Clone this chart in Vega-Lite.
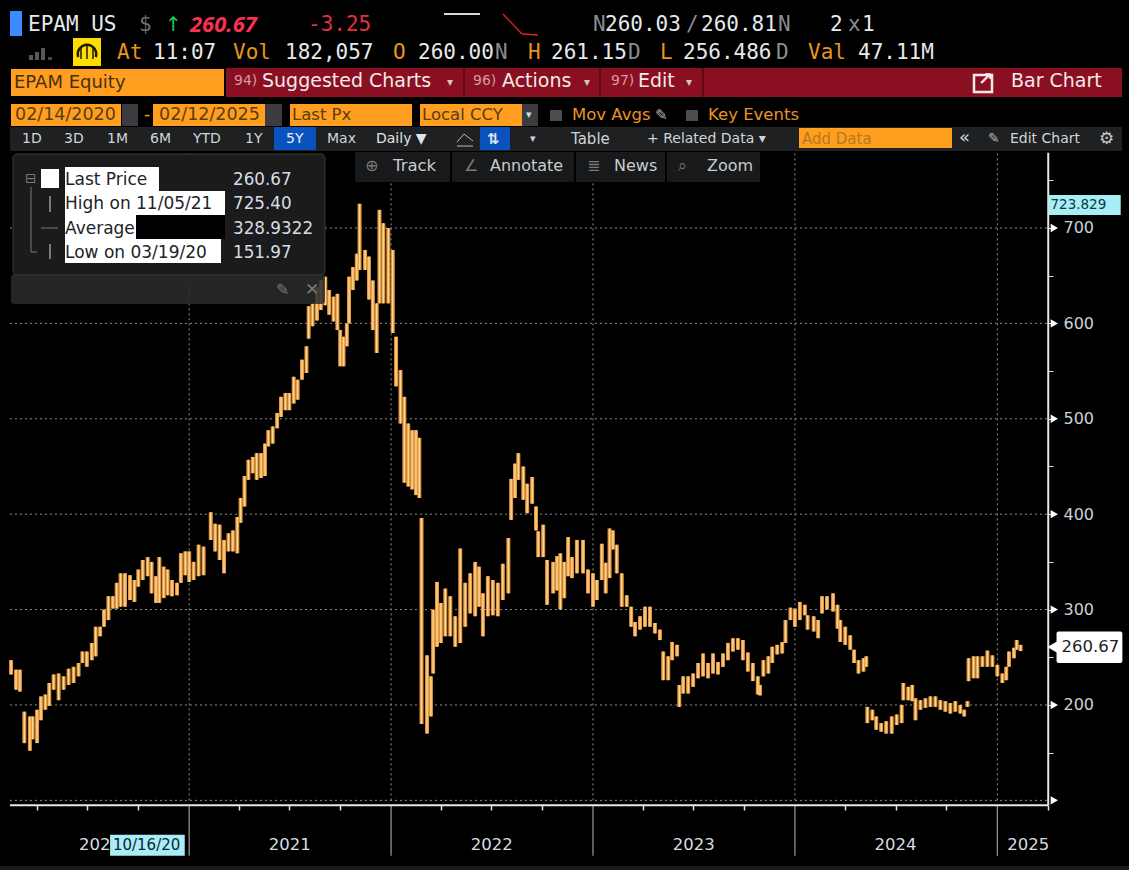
{
"$schema":"https://vega.github.io/schema/vega-lite/v6.json",
"width":1129,"height":870,"padding":0,
"autosize":{"type":"fit","contains":"padding"},
"background":"#000000",
"config":{"view":{"stroke":null},"text":{"align":"left","baseline":"middle","font":"DejaVu Sans"}},
"datasets":{
"bars":[
{"d":"2020-02-14","lo":232,"hi":247},{"d":"2020-02-23","lo":216,"hi":237},{"d":"2020-03-01","lo":214,"hi":237},{"d":"2020-03-09","lo":160,"hi":193},{"d":"2020-03-19","lo":152,"hi":188},{"d":"2020-03-24","lo":164,"hi":188},{"d":"2020-04-01","lo":160,"hi":195},{"d":"2020-04-08","lo":184,"hi":209},{"d":"2020-04-16","lo":195,"hi":211},{"d":"2020-04-23","lo":199,"hi":223},
{"d":"2020-05-01","lo":216,"hi":232},{"d":"2020-05-10","lo":205,"hi":233},{"d":"2020-05-19","lo":216,"hi":230},{"d":"2020-05-28","lo":221,"hi":238},{"d":"2020-06-06","lo":223,"hi":240},{"d":"2020-06-15","lo":230,"hi":244},{"d":"2020-06-22","lo":244,"hi":256},{"d":"2020-06-30","lo":240,"hi":256},{"d":"2020-07-09","lo":247,"hi":265},{"d":"2020-07-16","lo":251,"hi":282},
{"d":"2020-07-24","lo":272,"hi":282},{"d":"2020-07-31","lo":282,"hi":300},{"d":"2020-08-08","lo":289,"hi":314},{"d":"2020-08-16","lo":301,"hi":314},{"d":"2020-08-23","lo":301,"hi":328},{"d":"2020-08-30","lo":303,"hi":338},{"d":"2020-09-07","lo":303,"hi":338},{"d":"2020-09-16","lo":310,"hi":336},{"d":"2020-09-24","lo":308,"hi":331},{"d":"2020-10-01","lo":324,"hi":342},
{"d":"2020-10-09","lo":331,"hi":352},{"d":"2020-10-18","lo":335,"hi":355},{"d":"2020-10-25","lo":317,"hi":350},{"d":"2020-11-02","lo":307,"hi":335},{"d":"2020-11-08","lo":307,"hi":355},{"d":"2020-11-16","lo":312,"hi":345},{"d":"2020-11-23","lo":315,"hi":342},{"d":"2020-12-01","lo":314,"hi":331},{"d":"2020-12-10","lo":315,"hi":328},{"d":"2020-12-17","lo":328,"hi":359},
{"d":"2020-12-25","lo":336,"hi":361},{"d":"2021-01-01","lo":329,"hi":361},{"d":"2021-01-09","lo":331,"hi":350},{"d":"2021-01-18","lo":335,"hi":368},{"d":"2021-01-27","lo":336,"hi":366},{"d":"2021-02-09","lo":373,"hi":402},{"d":"2021-02-17","lo":361,"hi":390},{"d":"2021-02-25","lo":352,"hi":389},{"d":"2021-03-05","lo":338,"hi":373},{"d":"2021-03-13","lo":361,"hi":380},
{"d":"2021-03-21","lo":361,"hi":383},{"d":"2021-03-29","lo":359,"hi":397},{"d":"2021-04-04","lo":391,"hi":417},{"d":"2021-04-11","lo":408,"hi":440},{"d":"2021-04-18","lo":436,"hi":457},{"d":"2021-04-26","lo":443,"hi":460},{"d":"2021-05-03","lo":436,"hi":464},{"d":"2021-05-11","lo":438,"hi":464},{"d":"2021-05-18","lo":440,"hi":474},{"d":"2021-05-24","lo":471,"hi":488},
{"d":"2021-06-01","lo":474,"hi":492},{"d":"2021-06-09","lo":490,"hi":506},{"d":"2021-06-16","lo":502,"hi":523},{"d":"2021-06-24","lo":509,"hi":527},{"d":"2021-07-01","lo":509,"hi":527},{"d":"2021-07-09","lo":516,"hi":544},{"d":"2021-07-16","lo":520,"hi":541},{"d":"2021-07-24","lo":541,"hi":562},{"d":"2021-08-01","lo":548,"hi":576},{"d":"2021-08-05","lo":584,"hi":618},
{"d":"2021-08-12","lo":597,"hi":621},{"d":"2021-08-20","lo":603,"hi":638},{"d":"2021-08-27","lo":614,"hi":645},{"d":"2021-09-04","lo":619,"hi":649},{"d":"2021-09-11","lo":609,"hi":635},{"d":"2021-09-19","lo":602,"hi":628},{"d":"2021-09-26","lo":593,"hi":631},{"d":"2021-10-01","lo":555,"hi":593},{"d":"2021-10-07","lo":555,"hi":586},{"d":"2021-10-13","lo":576,"hi":600},
{"d":"2021-10-17","lo":600,"hi":649},{"d":"2021-10-24","lo":635,"hi":659},{"d":"2021-10-31","lo":645,"hi":673},{"d":"2021-11-05","lo":656,"hi":725.4},{"d":"2021-11-15","lo":656,"hi":677},{"d":"2021-11-22","lo":625,"hi":670},{"d":"2021-11-29","lo":593,"hi":645},{"d":"2021-12-06","lo":569,"hi":621},{"d":"2021-12-11","lo":621,"hi":719},{"d":"2021-12-18","lo":621,"hi":705},
{"d":"2021-12-27","lo":621,"hi":700},{"d":"2022-01-04","lo":590,"hi":677},{"d":"2022-01-10","lo":534,"hi":586},{"d":"2022-01-18","lo":495,"hi":551},{"d":"2022-01-25","lo":433,"hi":523},{"d":"2022-02-01","lo":429,"hi":495},{"d":"2022-02-08","lo":426,"hi":488},{"d":"2022-02-15","lo":420,"hi":488},{"d":"2022-02-21","lo":417,"hi":480},
{"d":"2022-02-25","lo":180,"hi":396},{"d":"2022-03-07","lo":170,"hi":252},{"d":"2022-03-14","lo":188,"hi":230},{"d":"2022-03-18","lo":233,"hi":300},{"d":"2022-03-25","lo":261,"hi":329},{"d":"2022-04-01","lo":265,"hi":307},{"d":"2022-04-09","lo":272,"hi":322},{"d":"2022-04-18","lo":272,"hi":314},{"d":"2022-04-27","lo":261,"hi":293},{"d":"2022-05-06","lo":265,"hi":364},
{"d":"2022-05-15","lo":282,"hi":328},{"d":"2022-05-24","lo":296,"hi":338},{"d":"2022-06-02","lo":293,"hi":350},{"d":"2022-06-09","lo":303,"hi":345},{"d":"2022-06-16","lo":272,"hi":317},{"d":"2022-06-25","lo":293,"hi":335},{"d":"2022-07-04","lo":294,"hi":331},{"d":"2022-07-13","lo":293,"hi":328},{"d":"2022-07-22","lo":310,"hi":348},{"d":"2022-08-01","lo":317,"hi":375},
{"d":"2022-08-06","lo":394,"hi":437},{"d":"2022-08-13","lo":417,"hi":453},{"d":"2022-08-19","lo":436,"hi":464},{"d":"2022-08-28","lo":415,"hi":450},{"d":"2022-09-04","lo":401,"hi":432},{"d":"2022-09-13","lo":411,"hi":439},{"d":"2022-09-20","lo":383,"hi":408},{"d":"2022-09-24","lo":355,"hi":382},{"d":"2022-10-03","lo":355,"hi":389},{"d":"2022-10-10","lo":305,"hi":352},
{"d":"2022-10-21","lo":317,"hi":350},{"d":"2022-10-28","lo":320,"hi":356},{"d":"2022-11-03","lo":300,"hi":359},{"d":"2022-11-10","lo":312,"hi":350},{"d":"2022-11-17","lo":335,"hi":376},{"d":"2022-11-24","lo":333,"hi":355},{"d":"2022-12-03","lo":338,"hi":373},{"d":"2022-12-14","lo":338,"hi":373},{"d":"2022-12-23","lo":317,"hi":342},{"d":"2023-01-01","lo":303,"hi":338},
{"d":"2023-01-08","lo":310,"hi":331},{"d":"2023-01-17","lo":331,"hi":369},{"d":"2023-01-24","lo":317,"hi":349},{"d":"2023-01-31","lo":333,"hi":385},{"d":"2023-02-06","lo":363,"hi":383},{"d":"2023-02-13","lo":338,"hi":368},{"d":"2023-02-22","lo":303,"hi":338},{"d":"2023-03-03","lo":303,"hi":315},{"d":"2023-03-11","lo":282,"hi":303},{"d":"2023-03-18","lo":272,"hi":287},
{"d":"2023-03-27","lo":279,"hi":293},{"d":"2023-04-05","lo":282,"hi":303},{"d":"2023-04-14","lo":282,"hi":303},{"d":"2023-04-23","lo":275,"hi":286},{"d":"2023-05-02","lo":268,"hi":279},{"d":"2023-05-08","lo":226,"hi":256},{"d":"2023-05-17","lo":226,"hi":251},{"d":"2023-05-24","lo":247,"hi":266},{"d":"2023-06-02","lo":251,"hi":263},{"d":"2023-06-06","lo":198,"hi":221},
{"d":"2023-06-13","lo":212,"hi":230},{"d":"2023-06-22","lo":212,"hi":230},{"d":"2023-07-01","lo":219,"hi":233},{"d":"2023-07-10","lo":228,"hi":244},{"d":"2023-07-19","lo":230,"hi":254},{"d":"2023-07-28","lo":228,"hi":244},{"d":"2023-08-06","lo":233,"hi":254},{"d":"2023-08-15","lo":232,"hi":245},{"d":"2023-08-24","lo":240,"hi":254},{"d":"2023-09-02","lo":247,"hi":265},
{"d":"2023-09-11","lo":256,"hi":270},{"d":"2023-09-20","lo":258,"hi":270},{"d":"2023-09-29","lo":247,"hi":268},{"d":"2023-10-08","lo":235,"hi":255},{"d":"2023-10-17","lo":225,"hi":244},{"d":"2023-10-26","lo":211,"hi":230},{"d":"2023-10-30","lo":210,"hi":221},{"d":"2023-11-05","lo":230,"hi":247},{"d":"2023-11-14","lo":233,"hi":251},{"d":"2023-11-21","lo":244,"hi":261},
{"d":"2023-11-30","lo":253,"hi":263},{"d":"2023-12-09","lo":254,"hi":266},{"d":"2023-12-15","lo":265,"hi":289},{"d":"2023-12-24","lo":289,"hi":302},{"d":"2024-01-01","lo":282,"hi":301},{"d":"2024-01-10","lo":289,"hi":308},{"d":"2024-01-19","lo":294,"hi":305},{"d":"2024-01-24","lo":279,"hi":294},{"d":"2024-02-04","lo":277,"hi":293},{"d":"2024-02-12","lo":270,"hi":289},
{"d":"2024-02-19","lo":296,"hi":314},{"d":"2024-02-28","lo":300,"hi":314},{"d":"2024-03-10","lo":298,"hi":317},{"d":"2024-03-18","lo":280,"hi":305},{"d":"2024-03-23","lo":266,"hi":289},{"d":"2024-04-01","lo":263,"hi":282},{"d":"2024-04-10","lo":258,"hi":273},{"d":"2024-04-17","lo":244,"hi":258},{"d":"2024-04-25","lo":233,"hi":247},{"d":"2024-05-04","lo":235,"hi":249},
{"d":"2024-05-09","lo":240,"hi":251},{"d":"2024-05-11","lo":181,"hi":198},{"d":"2024-05-20","lo":184,"hi":195},{"d":"2024-05-27","lo":174,"hi":188},{"d":"2024-06-05","lo":172,"hi":181},{"d":"2024-06-14","lo":170,"hi":183},{"d":"2024-06-24","lo":170,"hi":188},{"d":"2024-07-03","lo":179,"hi":190},{"d":"2024-07-12","lo":181,"hi":200},{"d":"2024-07-15","lo":205,"hi":223},
{"d":"2024-07-24","lo":205,"hi":219},{"d":"2024-07-31","lo":204,"hi":221},{"d":"2024-08-06","lo":184,"hi":207},{"d":"2024-08-15","lo":195,"hi":205},{"d":"2024-08-24","lo":197,"hi":207},{"d":"2024-09-02","lo":198,"hi":209},{"d":"2024-09-11","lo":198,"hi":209},{"d":"2024-09-20","lo":195,"hi":205},{"d":"2024-09-29","lo":193,"hi":204},{"d":"2024-10-08","lo":191,"hi":202},
{"d":"2024-10-17","lo":193,"hi":204},{"d":"2024-10-26","lo":191,"hi":200},{"d":"2024-11-02","lo":188,"hi":195},{"d":"2024-11-08","lo":198,"hi":204},{"d":"2024-11-10","lo":225,"hi":249},{"d":"2024-11-19","lo":228,"hi":251},{"d":"2024-11-26","lo":228,"hi":251},{"d":"2024-12-05","lo":240,"hi":251},{"d":"2024-12-14","lo":240,"hi":257},{"d":"2024-12-23","lo":240,"hi":252},
{"d":"2025-01-01","lo":230,"hi":242},{"d":"2025-01-10","lo":223,"hi":233},{"d":"2025-01-17","lo":226,"hi":240},{"d":"2025-01-22","lo":240,"hi":256},{"d":"2025-01-31","lo":249,"hi":260},{"d":"2025-02-05","lo":258,"hi":268},{"d":"2025-02-12","lo":256.5,"hi":263}
],
"gridY":[{"p":100,"a":"2020-02-12","b":"2025-04-03","m":"2025-04-14"},{"p":200,"a":"2020-02-12","b":"2025-04-03","m":"2025-04-14"},{"p":300,"a":"2020-02-12","b":"2025-04-03","m":"2025-04-14"},{"p":400,"a":"2020-02-12","b":"2025-04-03","m":"2025-04-14"},{"p":500,"a":"2020-02-12","b":"2025-04-03","m":"2025-04-14"},{"p":600,"a":"2020-02-12","b":"2025-04-03","m":"2025-04-14"},{"p":700,"a":"2020-02-12","b":"2025-04-03","m":"2025-04-14"}],
"gridX":[{"d":"2021-01-01"},{"d":"2022-01-01"},{"d":"2023-01-01"},{"d":"2024-01-01"},{"d":"2025-01-01"}],
"years":[{"d":"2020-07-24","t":"2020"},{"d":"2021-07-02","t":"2021"},{"d":"2022-07-02","t":"2022"},{"d":"2023-07-02","t":"2023"},{"d":"2024-07-01","t":"2024"},{"d":"2025-02-26","t":"2025"}],
"axisEdge":[{"a":"2020-02-12","b":"2025-04-03","p":95,"top":779}],
"hoverTag":[{"t":"10/16/20","d":"2020-10-16","a":"2020-08-11","b":"2020-12-24"}],
"highTag":[{"v":723.829,"a":"2025-04-03","b":"2025-08-12","d":"2025-04-07"}],
"lastTag":[{"v":260.67,"a":"2025-04-18","b":"2025-08-15","d":"2025-04-27","m":"2025-04-14"}]
},
"layer":[
{"data":{"name":"gridY","format":{"parse":{"a":"date","b":"date"}}},"mark":{"type":"rule","color":"#8f8f8f","strokeDash":[2,3],"strokeWidth":1},"encoding":{"x":{"field":"a","type":"temporal"},"x2":{"field":"b"},"y":{"field":"p","type":"quantitative"}}},
{"data":{"name":"gridX"},"mark":{"type":"rule","color":"#8f8f8f","strokeDash":[2,3],"strokeWidth":1},"encoding":{"x":{"field":"d","type":"temporal"},"y":{"datum":100,"type":"quantitative"},"y2":{"datum":779}}},
{"data":{"name":"gridX"},"mark":{"type":"rule","color":"#9a9a9a","strokeWidth":1.2},"encoding":{"x":{"field":"d","type":"temporal"},"y":{"datum":95,"type":"quantitative"},"y2":{"datum":42}}},
{"data":{"name":"bars"},"mark":{"type":"rule","color":"#e2973a","strokeWidth":4},"encoding":{
"x":{"field":"d","type":"temporal","title":null,"scale":{"type":"utc","domain":["2020-01-25","2025-08-27"],"nice":false},
"axis":{"orient":"bottom","offset":-65,"domain":false,"grid":false,"labels":false,"title":null,"tickSize":5,"tickColor":"#e0e0e0","tickWidth":1.5,
"values":["2020-04-01","2020-07-01","2020-10-01","2021-04-01","2021-07-01","2021-10-01","2022-04-01","2022-07-01","2022-10-01","2023-04-01","2023-07-01","2023-10-01","2024-04-01","2024-07-01","2024-10-01","2025-04-03"]}},
"y":{"field":"hi","type":"quantitative","title":null,"scale":{"domain":[27,939],"nice":false,"zero":false},
"axis":{"orient":"right","offset":-81,"domain":false,"grid":false,"title":null,"tickSize":5,"tickColor":"#e0e0e0","labelPadding":10,"labelColor":"#c6d2dc","labelFont":"DejaVu Sans","labelFontSize":16,
"values":[150,200,250,300,350,400,450,500,550,600,650,700,750],"labelExpr":"datum.value % 100 == 0 ? datum.value : ''","labelOverlap":false}},
"y2":{"field":"lo"}}},
{"data":{"name":"bars"},"mark":{"type":"rule","color":"#ffd69a","strokeWidth":1.4},"encoding":{"x":{"field":"d","type":"temporal"},"y":{"field":"hi","type":"quantitative"},"y2":{"field":"lo"}}},
{"data":{"name":"gridY"},"mark":{"type":"point","shape":"triangle-right","filled":true,"color":"#ffffff","opacity":1,"size":70},"encoding":{"x":{"field":"m","type":"temporal"},"y":{"field":"p","type":"quantitative"}}},
{"data":{"name":"axisEdge"},"mark":{"type":"rule","color":"#e8e8e8","strokeWidth":2},"encoding":{"x":{"field":"b","type":"temporal"},"y":{"field":"p","type":"quantitative"},"y2":{"field":"top"}}},
{"data":{"name":"axisEdge","format":{"parse":{"a":"date","b":"date"}}},"mark":{"type":"rule","color":"#e8e8e8","strokeWidth":2},"encoding":{"x":{"field":"a","type":"temporal"},"x2":{"field":"b"},"y":{"field":"p","type":"quantitative"}}},
{"data":{"name":"years"},"mark":{"type":"text","align":"center","fontSize":16.5,"color":"#d6dce2"},"encoding":{"x":{"field":"d","type":"temporal"},"y":{"datum":53,"type":"quantitative"},"text":{"field":"t"}}},
{"data":{"name":"hoverTag","format":{"parse":{"a":"date","b":"date"}}},"mark":{"type":"rect","color":"#a9eef6"},"encoding":{"x":{"field":"a","type":"temporal"},"x2":{"field":"b"},"y":{"datum":64,"type":"quantitative"},"y2":{"datum":42}}},
{"data":{"name":"hoverTag"},"mark":{"type":"text","align":"center","fontSize":15,"color":"#123"},"encoding":{"x":{"field":"d","type":"temporal"},"y":{"datum":53,"type":"quantitative"},"text":{"field":"t"}}},
{"data":{"name":"highTag","format":{"parse":{"a":"date","b":"date"}}},"mark":{"type":"rect","color":"#a9eef6"},"encoding":{"x":{"field":"a","type":"temporal"},"x2":{"field":"b"},"y":{"datum":734.6,"type":"quantitative"},"y2":{"datum":713.5}}},
{"data":{"name":"highTag"},"mark":{"type":"text","fontSize":13.5,"color":"#0b3a44"},"encoding":{"x":{"field":"d","type":"temporal"},"y":{"field":"v","type":"quantitative"},"text":{"field":"v","format":".3f"}}},
{"data":{"name":"lastTag","format":{"parse":{"a":"date","b":"date"}}},"mark":{"type":"rect","color":"#ffffff","cornerRadius":2},"encoding":{"x":{"field":"a","type":"temporal"},"x2":{"field":"b"},"y":{"datum":277,"type":"quantitative"},"y2":{"datum":244}}},
{"data":{"name":"lastTag"},"mark":{"type":"point","shape":"triangle-left","filled":true,"color":"#ffffff","opacity":1,"size":260},"encoding":{"x":{"field":"m","type":"temporal"},"y":{"field":"v","type":"quantitative"}}},
{"data":{"name":"lastTag"},"mark":{"type":"text","fontSize":16.5,"color":"#1d2226"},"encoding":{"x":{"field":"d","type":"temporal"},"y":{"field":"v","type":"quantitative"},"text":{"field":"v","format":".2f"}}},

{"data":{"values":[{"k":1}]},"mark":{"type":"rect","x":11,"x2":325,"y":274,"y2":304,"color":"#2a2b2d","opacity":0.85,"cornerRadius":3}},
{"data":{"values":[{"k":1}]},"mark":{"type":"rect","x":13,"x2":325,"y":154,"y2":275,"color":"#1b1b1c","stroke":"#3a3a3a","cornerRadius":4}},
{"data":{"values":[{"k":1}]},"mark":{"type":"rect","x":41,"x2":59,"y":169,"y2":188,"color":"#ffffff"}},
{"data":{"values":[{"k":1}]},"mark":{"type":"rect","x":65,"x2":159,"y":167,"y2":191,"color":"#ffffff"}},
{"data":{"values":[{"k":1}]},"mark":{"type":"rect","x":65,"x2":225,"y":191,"y2":215,"color":"#ffffff"}},
{"data":{"values":[{"k":1}]},"mark":{"type":"rect","x":65,"x2":136,"y":215,"y2":239,"color":"#ffffff"}},
{"data":{"values":[{"k":1}]},"mark":{"type":"rect","x":136,"x2":225,"y":215,"y2":239,"color":"#000000"}},
{"data":{"values":[{"k":1}]},"mark":{"type":"rect","x":65,"x2":221,"y":239,"y2":263,"color":"#ffffff"}},
{"data":{"values":[{"t":"Last Price"}]},"mark":{"type":"text","x":65,"y":180,"fontSize":17,"color":"#20242a"},"encoding":{"text":{"field":"t"}}},
{"data":{"values":[{"t":"High on 11/05/21"}]},"mark":{"type":"text","x":65,"y":204,"fontSize":17,"color":"#20242a"},"encoding":{"text":{"field":"t"}}},
{"data":{"values":[{"t":"Average"}]},"mark":{"type":"text","x":65,"y":229,"fontSize":17,"color":"#20242a"},"encoding":{"text":{"field":"t"}}},
{"data":{"values":[{"t":"Low on 03/19/20"}]},"mark":{"type":"text","x":65,"y":253,"fontSize":17,"color":"#20242a"},"encoding":{"text":{"field":"t"}}},
{"data":{"values":[{"t":"260.67"}]},"mark":{"type":"text","x":233,"y":180,"fontSize":16.8,"color":"#d5dde5"},"encoding":{"text":{"field":"t"}}},
{"data":{"values":[{"t":"725.40"}]},"mark":{"type":"text","x":233,"y":204,"fontSize":16.8,"color":"#d5dde5"},"encoding":{"text":{"field":"t"}}},
{"data":{"values":[{"t":"328.9322"}]},"mark":{"type":"text","x":233,"y":229,"fontSize":16.8,"color":"#d5dde5"},"encoding":{"text":{"field":"t"}}},
{"data":{"values":[{"t":"151.97"}]},"mark":{"type":"text","x":233,"y":253,"fontSize":16.8,"color":"#d5dde5"},"encoding":{"text":{"field":"t"}}},
{"data":{"values":[{"t":"⊟"}]},"mark":{"type":"text","x":25,"y":179,"fontSize":14,"color":"#77797c"},"encoding":{"text":{"field":"t"}}},
{"data":{"values":[{"k":1}]},"mark":{"type":"rule","color":"#77797c"},"encoding":{"x":{"value":31},"x2":{"value":31},"y":{"value":187},"y2":{"value":252}}},
{"data":{"values":[{"k":1}]},"mark":{"type":"rule","color":"#77797c"},"encoding":{"x":{"value":31},"x2":{"value":37},"y":{"value":252},"y2":{"value":252}}},
{"data":{"values":[{"k":1}]},"mark":{"type":"rule","color":"#77797c"},"encoding":{"x":{"value":41},"x2":{"value":58},"y":{"value":228},"y2":{"value":228}}},
{"data":{"values":[{"k":1}]},"mark":{"type":"rule","color":"#77797c","strokeWidth":2},"encoding":{"x":{"value":50},"x2":{"value":50},"y":{"value":196},"y2":{"value":212}}},
{"data":{"values":[{"k":1}]},"mark":{"type":"rule","color":"#77797c","strokeWidth":2},"encoding":{"x":{"value":50},"x2":{"value":50},"y":{"value":244},"y2":{"value":259}}},
{"data":{"values":[{"t":"✕"}]},"mark":{"type":"text","x":305,"y":290,"fontSize":17,"color":"#77797c"},"encoding":{"text":{"field":"t"}}},
{"data":{"values":[{"t":"✎"}]},"mark":{"type":"text","x":276,"y":290,"fontSize":16,"color":"#77797c"},"encoding":{"text":{"field":"t"}}},

{"data":{"values":[{"k":1}]},"mark":{"type":"rect","x":0,"x2":1129,"y":866,"y2":870,"color":"#1c1c1c"}},
{"data":{"values":[{"k":1}]},"mark":{"type":"rect","x":10,"x2":22,"y":11,"y2":36,"color":"#3b8dff"}},
{"data":{"values":[{"t":"EPAM US"}]},"mark":{"type":"text","x":28,"y":25,"fontSize":21,"font":"DejaVu Sans Mono","color":"#e6e9ec"},"encoding":{"text":{"field":"t"}}},
{"data":{"values":[{"t":"$"}]},"mark":{"type":"text","x":139,"y":25,"fontSize":21,"font":"DejaVu Sans Mono","color":"#6d7074"},"encoding":{"text":{"field":"t"}}},
{"data":{"values":[{"t":"↑"}]},"mark":{"type":"text","x":165,"y":25,"fontSize":20,"color":"#25c55a"},"encoding":{"text":{"field":"t"}}},
{"data":{"values":[{"t":"260.67"}]},"mark":{"type":"text","x":190,"y":25,"fontSize":22,"font":"Noto Sans","fontStyle":"italic","fontWeight":"bold","color":"#f5324f"},"encoding":{"text":{"field":"t"}}},
{"data":{"values":[{"t":"-3.25"}]},"mark":{"type":"text","x":308,"y":25,"fontSize":21,"font":"DejaVu Sans Mono","color":"#e2323f"},"encoding":{"text":{"field":"t"}}},
{"data":{"values":[{"k":1}]},"mark":{"type":"rule","color":"#d8d8d8","strokeWidth":2},"encoding":{"x":{"value":444},"x2":{"value":480},"y":{"value":14},"y2":{"value":14}}},
{"data":{"values":[{"k":1}]},"mark":{"type":"rule","color":"#d8202c","strokeWidth":1.5},"encoding":{"x":{"value":503},"x2":{"value":522},"y":{"value":14},"y2":{"value":34}}},
{"data":{"values":[{"k":1}]},"mark":{"type":"rule","color":"#d8202c","strokeWidth":1.5},"encoding":{"x":{"value":522},"x2":{"value":538},"y":{"value":34},"y2":{"value":35}}},
{"data":{"values":[{"t":"N"}]},"mark":{"type":"text","x":593,"y":25,"fontSize":21,"font":"DejaVu Sans Mono","color":"#8a8d90"},"encoding":{"text":{"field":"t"}}},
{"data":{"values":[{"t":"260.03"}]},"mark":{"type":"text","x":605,"y":25,"fontSize":21,"font":"DejaVu Sans Mono","color":"#e6e9ec"},"encoding":{"text":{"field":"t"}}},
{"data":{"values":[{"t":"/"}]},"mark":{"type":"text","x":686,"y":25,"fontSize":21,"font":"DejaVu Sans Mono","color":"#8a8d90"},"encoding":{"text":{"field":"t"}}},
{"data":{"values":[{"t":"260.81"}]},"mark":{"type":"text","x":701,"y":25,"fontSize":21,"font":"DejaVu Sans Mono","color":"#e6e9ec"},"encoding":{"text":{"field":"t"}}},
{"data":{"values":[{"t":"N"}]},"mark":{"type":"text","x":778,"y":25,"fontSize":21,"font":"DejaVu Sans Mono","color":"#8a8d90"},"encoding":{"text":{"field":"t"}}},
{"data":{"values":[{"t":"2"}]},"mark":{"type":"text","x":830,"y":25,"fontSize":21,"font":"DejaVu Sans Mono","color":"#e6e9ec"},"encoding":{"text":{"field":"t"}}},
{"data":{"values":[{"t":"x"}]},"mark":{"type":"text","x":848,"y":25,"fontSize":21,"font":"DejaVu Sans Mono","color":"#8a8d90"},"encoding":{"text":{"field":"t"}}},
{"data":{"values":[{"t":"1"}]},"mark":{"type":"text","x":862,"y":25,"fontSize":21,"font":"DejaVu Sans Mono","color":"#e6e9ec"},"encoding":{"text":{"field":"t"}}},

{"data":{"values":[{"k":1}]},"mark":{"type":"rule","color":"#55585c","strokeWidth":4},"encoding":{"x":{"value":31},"y":{"value":55},"y2":{"value":60}}},
{"data":{"values":[{"k":1}]},"mark":{"type":"rule","color":"#55585c","strokeWidth":4},"encoding":{"x":{"value":37},"y":{"value":52},"y2":{"value":60}}},
{"data":{"values":[{"k":1}]},"mark":{"type":"rule","color":"#55585c","strokeWidth":4},"encoding":{"x":{"value":43},"y":{"value":48},"y2":{"value":60}}},
{"data":{"values":[{"k":1}]},"mark":{"type":"rule","color":"#44474a","strokeWidth":4},"encoding":{"x":{"value":50},"y":{"value":57},"y2":{"value":60}}},
{"data":{"values":[{"k":1}]},"mark":{"type":"rect","x":73,"x2":101,"y":38,"y2":66,"color":"#ffdd00"}},
{"data":{"values":[{"k":1}]},"mark":{"type":"arc","x":87,"y":54,"innerRadius":8,"outerRadius":10.5,"theta":-1.9,"theta2":1.9,"color":"#1a1a00"}},
{"data":{"values":[{"k":1}]},"mark":{"type":"rule","color":"#1a1a00","strokeWidth":1.5},"encoding":{"x":{"value":87},"y":{"value":46},"y2":{"value":59}}},
{"data":{"values":[{"k":1}]},"mark":{"type":"rule","color":"#1a1a00","strokeWidth":1.5},"encoding":{"x":{"value":81},"y":{"value":48},"y2":{"value":59}}},
{"data":{"values":[{"k":1}]},"mark":{"type":"rule","color":"#1a1a00","strokeWidth":1.5},"encoding":{"x":{"value":93},"y":{"value":48},"y2":{"value":59}}},
{"data":{"values":[{"t":"At"}]},"mark":{"type":"text","x":117,"y":53,"fontSize":21,"font":"DejaVu Sans Mono","color":"#e8941f"},"encoding":{"text":{"field":"t"}}},
{"data":{"values":[{"t":"11:07"}]},"mark":{"type":"text","x":153,"y":53,"fontSize":21,"font":"DejaVu Sans Mono","color":"#e6e9ec"},"encoding":{"text":{"field":"t"}}},
{"data":{"values":[{"t":"Vol"}]},"mark":{"type":"text","x":233,"y":53,"fontSize":21,"font":"DejaVu Sans Mono","color":"#e8941f"},"encoding":{"text":{"field":"t"}}},
{"data":{"values":[{"t":"182,057"}]},"mark":{"type":"text","x":285,"y":53,"fontSize":21,"font":"DejaVu Sans Mono","color":"#e6e9ec"},"encoding":{"text":{"field":"t"}}},
{"data":{"values":[{"t":"O"}]},"mark":{"type":"text","x":393,"y":53,"fontSize":21,"font":"DejaVu Sans Mono","color":"#e8941f"},"encoding":{"text":{"field":"t"}}},
{"data":{"values":[{"t":"260.00"}]},"mark":{"type":"text","x":418,"y":53,"fontSize":21,"font":"DejaVu Sans Mono","color":"#e6e9ec"},"encoding":{"text":{"field":"t"}}},
{"data":{"values":[{"t":"N"}]},"mark":{"type":"text","x":495,"y":53,"fontSize":21,"font":"DejaVu Sans Mono","color":"#8a8d90"},"encoding":{"text":{"field":"t"}}},
{"data":{"values":[{"t":"H"}]},"mark":{"type":"text","x":528,"y":53,"fontSize":21,"font":"DejaVu Sans Mono","color":"#e8941f"},"encoding":{"text":{"field":"t"}}},
{"data":{"values":[{"t":"261.15"}]},"mark":{"type":"text","x":551,"y":53,"fontSize":21,"font":"DejaVu Sans Mono","color":"#e6e9ec"},"encoding":{"text":{"field":"t"}}},
{"data":{"values":[{"t":"D"}]},"mark":{"type":"text","x":628,"y":53,"fontSize":21,"font":"DejaVu Sans Mono","color":"#8a8d90"},"encoding":{"text":{"field":"t"}}},
{"data":{"values":[{"t":"L"}]},"mark":{"type":"text","x":660,"y":53,"fontSize":21,"font":"DejaVu Sans Mono","color":"#e8941f"},"encoding":{"text":{"field":"t"}}},
{"data":{"values":[{"t":"256.486"}]},"mark":{"type":"text","x":683,"y":53,"fontSize":21,"font":"DejaVu Sans Mono","color":"#e6e9ec"},"encoding":{"text":{"field":"t"}}},
{"data":{"values":[{"t":"D"}]},"mark":{"type":"text","x":776,"y":53,"fontSize":21,"font":"DejaVu Sans Mono","color":"#8a8d90"},"encoding":{"text":{"field":"t"}}},
{"data":{"values":[{"t":"Val"}]},"mark":{"type":"text","x":808,"y":53,"fontSize":21,"font":"DejaVu Sans Mono","color":"#e8941f"},"encoding":{"text":{"field":"t"}}},
{"data":{"values":[{"t":"47.11M"}]},"mark":{"type":"text","x":858,"y":53,"fontSize":21,"font":"DejaVu Sans Mono","color":"#e6e9ec"},"encoding":{"text":{"field":"t"}}},

{"data":{"values":[{"k":1}]},"mark":{"type":"rect","x":11,"x2":224,"y":69,"y2":96,"color":"#ff9e1f"}},
{"data":{"values":[{"k":1}]},"mark":{"type":"rect","x":226,"x2":1122,"y":68,"y2":97,"color":"#8a0f20"}},
{"data":{"values":[{"t":"EPAM Equity"}]},"mark":{"type":"text","x":14,"y":83,"fontSize":18,"color":"#4a2f0c"},"encoding":{"text":{"field":"t"}}},
{"data":{"values":[{"t":"94)"}]},"mark":{"type":"text","x":234,"y":81,"fontSize":14,"color":"#d69aa2"},"encoding":{"text":{"field":"t"}}},
{"data":{"values":[{"t":"Suggested Charts"}]},"mark":{"type":"text","x":262,"y":81,"fontSize":19,"color":"#f2eaea"},"encoding":{"text":{"field":"t"}}},
{"data":{"values":[{"t":"▾"}]},"mark":{"type":"text","x":447,"y":82,"fontSize":12,"color":"#d8c4c6"},"encoding":{"text":{"field":"t"}}},
{"data":{"values":[{"k":1}]},"mark":{"type":"rule","color":"#5e0a16","strokeWidth":2},"encoding":{"x":{"value":464},"y":{"value":68},"y2":{"value":97}}},
{"data":{"values":[{"t":"96)"}]},"mark":{"type":"text","x":473,"y":81,"fontSize":14,"color":"#d69aa2"},"encoding":{"text":{"field":"t"}}},
{"data":{"values":[{"t":"Actions"}]},"mark":{"type":"text","x":502,"y":81,"fontSize":19,"color":"#f2eaea"},"encoding":{"text":{"field":"t"}}},
{"data":{"values":[{"t":"▾"}]},"mark":{"type":"text","x":584,"y":82,"fontSize":12,"color":"#d8c4c6"},"encoding":{"text":{"field":"t"}}},
{"data":{"values":[{"k":1}]},"mark":{"type":"rule","color":"#5e0a16","strokeWidth":2},"encoding":{"x":{"value":600},"y":{"value":68},"y2":{"value":97}}},
{"data":{"values":[{"t":"97)"}]},"mark":{"type":"text","x":611,"y":81,"fontSize":14,"color":"#d69aa2"},"encoding":{"text":{"field":"t"}}},
{"data":{"values":[{"t":"Edit"}]},"mark":{"type":"text","x":638,"y":81,"fontSize":19,"color":"#f2eaea"},"encoding":{"text":{"field":"t"}}},
{"data":{"values":[{"t":"▾"}]},"mark":{"type":"text","x":686,"y":82,"fontSize":12,"color":"#d8c4c6"},"encoding":{"text":{"field":"t"}}},
{"data":{"values":[{"k":1}]},"mark":{"type":"rule","color":"#5e0a16","strokeWidth":2},"encoding":{"x":{"value":703},"y":{"value":68},"y2":{"value":97}}},
{"data":{"values":[{"k":1}]},"mark":{"type":"rect","x":974,"x2":992,"y":75,"y2":92,"color":"#8a0f20","stroke":"#f2eaea","strokeWidth":2.5}},
{"data":{"values":[{"t":"↗"}]},"mark":{"type":"text","x":978,"y":80,"fontSize":18,"fontWeight":"bold","color":"#f2eaea"},"encoding":{"text":{"field":"t"}}},
{"data":{"values":[{"t":"Bar Chart"}]},"mark":{"type":"text","x":1011,"y":81,"fontSize":19,"color":"#f2eaea"},"encoding":{"text":{"field":"t"}}},

{"data":{"values":[{"k":1}]},"mark":{"type":"rect","x":11,"x2":121,"y":104,"y2":126,"color":"#ff9e1f"}},
{"data":{"values":[{"k":1}]},"mark":{"type":"rect","x":122,"x2":138,"y":104,"y2":126,"color":"#3a3c3f"}},
{"data":{"values":[{"k":1}]},"mark":{"type":"rect","x":153,"x2":265,"y":104,"y2":126,"color":"#ff9e1f"}},
{"data":{"values":[{"k":1}]},"mark":{"type":"rect","x":265,"x2":282,"y":104,"y2":126,"color":"#3a3c3f"}},
{"data":{"values":[{"k":1}]},"mark":{"type":"rect","x":290,"x2":412,"y":104,"y2":126,"color":"#ff9e1f"}},
{"data":{"values":[{"k":1}]},"mark":{"type":"rect","x":420,"x2":522,"y":104,"y2":126,"color":"#ff9e1f"}},
{"data":{"values":[{"k":1}]},"mark":{"type":"rect","x":522,"x2":538,"y":104,"y2":126,"color":"#3a3c3f"}},
{"data":{"values":[{"k":1}]},"mark":{"type":"rect","x":550,"x2":562,"y":110,"y2":121,"color":"#4a4c4f"}},
{"data":{"values":[{"k":1}]},"mark":{"type":"rect","x":686,"x2":698,"y":110,"y2":121,"color":"#4a4c4f"}},
{"data":{"values":[{"t":"02/14/2020"}]},"mark":{"type":"text","x":15,"y":115,"fontSize":17.5,"color":"#5a3c12"},"encoding":{"text":{"field":"t"}}},
{"data":{"values":[{"t":"-"}]},"mark":{"type":"text","x":144,"y":115,"fontSize":17,"color":"#ff9e1f"},"encoding":{"text":{"field":"t"}}},
{"data":{"values":[{"t":"02/12/2025"}]},"mark":{"type":"text","x":159,"y":115,"fontSize":17.5,"color":"#5a3c12"},"encoding":{"text":{"field":"t"}}},
{"data":{"values":[{"t":"Last Px"}]},"mark":{"type":"text","x":292,"y":115,"fontSize":16.5,"color":"#5a3c12"},"encoding":{"text":{"field":"t"}}},
{"data":{"values":[{"t":"Local CCY"}]},"mark":{"type":"text","x":422,"y":115,"fontSize":16.5,"color":"#5a3c12"},"encoding":{"text":{"field":"t"}}},
{"data":{"values":[{"t":"▾"}]},"mark":{"type":"text","x":526,"y":115,"fontSize":11,"color":"#d8d8d8"},"encoding":{"text":{"field":"t"}}},
{"data":{"values":[{"t":"Mov Avgs"}]},"mark":{"type":"text","x":572,"y":115,"fontSize":16.5,"color":"#e8941f"},"encoding":{"text":{"field":"t"}}},
{"data":{"values":[{"t":"✎"}]},"mark":{"type":"text","x":655,"y":115,"fontSize":15,"color":"#b0b0b0"},"encoding":{"text":{"field":"t"}}},
{"data":{"values":[{"t":"Key Events"}]},"mark":{"type":"text","x":708,"y":115,"fontSize":16.5,"color":"#e8941f"},"encoding":{"text":{"field":"t"}}},

{"data":{"values":[{"k":1}]},"mark":{"type":"rect","x":10,"x2":1122,"y":127,"y2":151,"color":"#1e2022"}},
{"data":{"values":[{"k":1}]},"mark":{"type":"rect","x":274,"x2":316,"y":127,"y2":150,"color":"#0a52bd"}},
{"data":{"values":[{"k":1}]},"mark":{"type":"rect","x":480,"x2":510,"y":127,"y2":150,"color":"#0a52bd"}},
{"data":{"values":[{"k":1}]},"mark":{"type":"rect","x":799,"x2":952,"y":128,"y2":148,"color":"#ff9e1f"}},
{"data":{"values":[{"t":"1D"}]},"mark":{"type":"text","x":22,"y":139,"fontSize":14,"color":"#d0d4d8"},"encoding":{"text":{"field":"t"}}},
{"data":{"values":[{"t":"3D"}]},"mark":{"type":"text","x":64,"y":139,"fontSize":14,"color":"#d0d4d8"},"encoding":{"text":{"field":"t"}}},
{"data":{"values":[{"t":"1M"}]},"mark":{"type":"text","x":107,"y":139,"fontSize":14,"color":"#d0d4d8"},"encoding":{"text":{"field":"t"}}},
{"data":{"values":[{"t":"6M"}]},"mark":{"type":"text","x":150,"y":139,"fontSize":14,"color":"#d0d4d8"},"encoding":{"text":{"field":"t"}}},
{"data":{"values":[{"t":"YTD"}]},"mark":{"type":"text","x":193,"y":139,"fontSize":14,"color":"#d0d4d8"},"encoding":{"text":{"field":"t"}}},
{"data":{"values":[{"t":"1Y"}]},"mark":{"type":"text","x":245,"y":139,"fontSize":14,"color":"#d0d4d8"},"encoding":{"text":{"field":"t"}}},
{"data":{"values":[{"t":"5Y"}]},"mark":{"type":"text","x":286,"y":139,"fontSize":14,"color":"#e8eef5"},"encoding":{"text":{"field":"t"}}},
{"data":{"values":[{"t":"Max"}]},"mark":{"type":"text","x":327,"y":139,"fontSize":14,"color":"#d0d4d8"},"encoding":{"text":{"field":"t"}}},
{"data":{"values":[{"t":"Daily ▼"}]},"mark":{"type":"text","x":376,"y":139,"fontSize":14,"color":"#e0e4e8"},"encoding":{"text":{"field":"t"}}},
{"data":{"values":[{"k":1}]},"mark":{"type":"rule","color":"#b8bcc0"},"encoding":{"x":{"value":457},"x2":{"value":473},"y":{"value":146},"y2":{"value":146}}},
{"data":{"values":[{"k":1}]},"mark":{"type":"rule","color":"#b8bcc0"},"encoding":{"x":{"value":457},"x2":{"value":464},"y":{"value":142},"y2":{"value":134}}},
{"data":{"values":[{"k":1}]},"mark":{"type":"rule","color":"#b8bcc0"},"encoding":{"x":{"value":464},"x2":{"value":473},"y":{"value":134},"y2":{"value":141}}},
{"data":{"values":[{"t":"⇅"}]},"mark":{"type":"text","x":487,"y":139,"fontSize":15,"fontWeight":"bold","color":"#dfe8f5"},"encoding":{"text":{"field":"t"}}},
{"data":{"values":[{"t":"▾"}]},"mark":{"type":"text","x":530,"y":139,"fontSize":11,"color":"#d0d4d8"},"encoding":{"text":{"field":"t"}}},
{"data":{"values":[{"t":"Table"}]},"mark":{"type":"text","x":571,"y":139,"fontSize":15,"color":"#d0d4d8"},"encoding":{"text":{"field":"t"}}},
{"data":{"values":[{"t":"+ Related Data ▾"}]},"mark":{"type":"text","x":647,"y":139,"fontSize":14,"color":"#d0d4d8"},"encoding":{"text":{"field":"t"}}},
{"data":{"values":[{"t":"Add Data"}]},"mark":{"type":"text","x":802,"y":139,"fontSize":15,"color":"#b47a20"},"encoding":{"text":{"field":"t"}}},
{"data":{"values":[{"t":"«"}]},"mark":{"type":"text","x":959,"y":138,"fontSize":18,"color":"#d0d4d8"},"encoding":{"text":{"field":"t"}}},
{"data":{"values":[{"t":"✎"}]},"mark":{"type":"text","x":988,"y":139,"fontSize":14,"color":"#b0b0b0"},"encoding":{"text":{"field":"t"}}},
{"data":{"values":[{"t":"Edit Chart"}]},"mark":{"type":"text","x":1010,"y":139,"fontSize":14,"color":"#d0d4d8"},"encoding":{"text":{"field":"t"}}},
{"data":{"values":[{"t":"⚙"}]},"mark":{"type":"text","x":1099,"y":139,"fontSize":17,"color":"#c8c8c8"},"encoding":{"text":{"field":"t"}}},

{"data":{"values":[{"k":1}]},"mark":{"type":"rect","x":355,"x2":760,"y":152,"y2":182,"color":"#17191a"}},
{"data":{"values":[{"k":1}]},"mark":{"type":"rule","color":"#000000","strokeWidth":2},"encoding":{"x":{"value":451},"y":{"value":152},"y2":{"value":182}}},
{"data":{"values":[{"k":1}]},"mark":{"type":"rule","color":"#000000","strokeWidth":2},"encoding":{"x":{"value":575},"y":{"value":152},"y2":{"value":182}}},
{"data":{"values":[{"k":1}]},"mark":{"type":"rule","color":"#000000","strokeWidth":2},"encoding":{"x":{"value":666},"y":{"value":152},"y2":{"value":182}}},
{"data":{"values":[{"t":"Track"}]},"mark":{"type":"text","x":393,"y":166,"fontSize":16.5,"color":"#c8ccd0"},"encoding":{"text":{"field":"t"}}},
{"data":{"values":[{"t":"Annotate"}]},"mark":{"type":"text","x":490,"y":166,"fontSize":16,"color":"#c8ccd0"},"encoding":{"text":{"field":"t"}}},
{"data":{"values":[{"t":"News"}]},"mark":{"type":"text","x":614,"y":166,"fontSize":16,"color":"#c8ccd0"},"encoding":{"text":{"field":"t"}}},
{"data":{"values":[{"t":"Zoom"}]},"mark":{"type":"text","x":707,"y":166,"fontSize":16,"color":"#c8ccd0"},"encoding":{"text":{"field":"t"}}},
{"data":{"values":[{"t":"⊕"}]},"mark":{"type":"text","x":365,"y":166,"fontSize":16,"color":"#777a7d"},"encoding":{"text":{"field":"t"}}},
{"data":{"values":[{"t":"∠"}]},"mark":{"type":"text","x":464,"y":166,"fontSize":16,"color":"#777a7d"},"encoding":{"text":{"field":"t"}}},
{"data":{"values":[{"t":"≣"}]},"mark":{"type":"text","x":587,"y":166,"fontSize":16,"color":"#777a7d"},"encoding":{"text":{"field":"t"}}},
{"data":{"values":[{"t":"⌕"}]},"mark":{"type":"text","x":678,"y":166,"fontSize":16,"color":"#777a7d"},"encoding":{"text":{"field":"t"}}}
]
}
